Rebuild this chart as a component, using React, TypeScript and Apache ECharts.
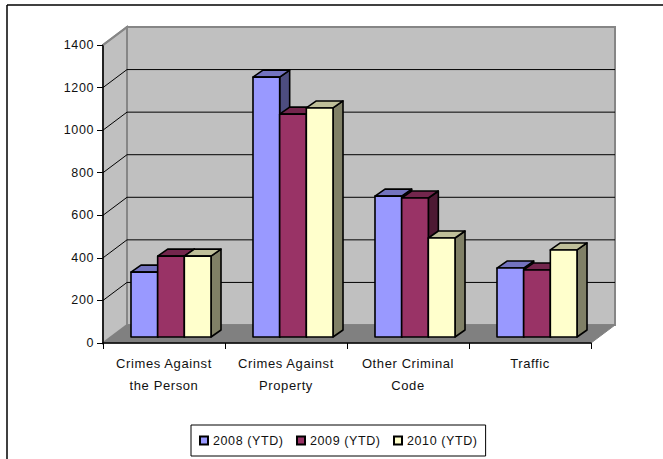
import React, { useEffect, useRef } from "react";
import * as echarts from "echarts";

const categories = ["Crimes Against\nthe Person", "Crimes Against\nProperty", "Other Criminal\nCode", "Traffic"];
const seriesNames = ["2008 (YTD)", "2009 (YTD)", "2010 (YTD)"];
const values2008 = [305, 1221, 662, 324];
const values2009 = [380, 1047, 653, 315];
const values2010 = [380, 1076, 465, 409];
const seriesValues = [values2008, values2009, values2010];
const frontColors = ["#9999ff", "#993366", "#ffffcc"];
const topColors = ["#7373bf", "#73264d", "#bfbf99"];
const sideColors = ["#4d4d80", "#4d1933", "#808066"];
const gridTicks = [200, 400, 600, 800, 1000, 1200, 1400];

const GRID = { left: 103, top: 45, width: 488, height: 298 };
const DEPTH_X = 24;
const DEPTH_Y = 18;
const BAR_SHIFT_X = 7;
const BAR_SHIFT_Y = 6;
const BAR_W = 26.67;
const BAR_DX = 10;
const BAR_DY = 7;

function barRenderer(seriesIndex: number) {
  return (params: any, api: any) => {
    const cat = api.value(0);
    const top = api.coord([cat, api.value(1)]);
    const base = api.coord([cat, 0]);
    const x0 = base[0] + BAR_SHIFT_X - BAR_W * 1.5 + seriesIndex * BAR_W;
    const x1 = x0 + BAR_W;
    const yb = base[1] - BAR_SHIFT_Y;
    const yt = top[1] - BAR_SHIFT_Y;
    const line = { stroke: "#000", lineWidth: 1.6, lineJoin: "round" };
    return {
      type: "group",
      children: [
        { type: "polygon", shape: { points: [[x1, yt], [x1 + BAR_DX, yt - BAR_DY], [x1 + BAR_DX, yb - BAR_DY], [x1, yb]] }, style: { fill: sideColors[seriesIndex], ...line } },
        { type: "polygon", shape: { points: [[x0, yt], [x0 + BAR_DX, yt - BAR_DY], [x1 + BAR_DX, yt - BAR_DY], [x1, yt]] }, style: { fill: topColors[seriesIndex], ...line } },
        { type: "rect", shape: { x: x0, y: yt, width: BAR_W, height: yb - yt }, style: { fill: frontColors[seriesIndex], ...line } },
      ],
    };
  };
}

function gridRenderer(params: any, api: any) {
  const p = api.coord([0, api.value(0)]);
  const left = GRID.left;
  const right = GRID.left + GRID.width;
  const isTop = api.value(0) === 1400;
  const color = isTop ? "#868686" : "#000";
  const width = isTop ? 2 : 1;
  return {
    type: "group",
    children: [
      { type: "line", shape: { x1: left, y1: p[1], x2: left + DEPTH_X, y2: p[1] - DEPTH_Y }, style: { stroke: color, lineWidth: width } },
      { type: "line", shape: { x1: left + DEPTH_X, y1: p[1] - DEPTH_Y, x2: right + DEPTH_X, y2: p[1] - DEPTH_Y }, style: { stroke: color, lineWidth: width } },
    ],
  };
}

const FONT = "'Liberation Sans', Arial, sans-serif";

export default function App() {
  const ref = useRef<HTMLDivElement>(null);
  useEffect(() => {
    const chart = echarts.init(ref.current!, undefined, { renderer: "svg" });
    const l = GRID.left, t = GRID.top, r = l + GRID.width, b = t + GRID.height;
    const grey = "#868686";
    chart.setOption({
      animation: false,
      backgroundColor: "#fff",
      textStyle: { fontFamily: FONT },
      grid: { left: l, top: t, width: GRID.width, height: GRID.height },
      xAxis: {
        type: "category",
        data: categories,
        axisLine: { lineStyle: { color: "#000", width: 1.5 } },
        axisTick: { show: true, length: 6, lineStyle: { color: "#000" } },
        axisLabel: { color: "#111", fontSize: 13, lineHeight: 22, margin: 9, fontFamily: FONT, interval: 0 },
      },
      yAxis: {
        type: "value",
        min: 0,
        max: 1400,
        interval: 200,
        axisLine: { show: true, lineStyle: { color: "#000", width: 1.5 } },
        axisTick: { show: true, length: 6, lineStyle: { color: "#000" } },
        splitLine: { show: false },
        axisLabel: { color: "#111", fontSize: 12.5, margin: 9, fontFamily: FONT, formatter: (v: number) => String(v) },
      },
      legend: {
        left: 191,
        top: 425,
        padding: [9, 14, 9, 8],
        borderColor: "#000",
        borderWidth: 1,
        itemWidth: 8,
        itemHeight: 8,
        itemGap: 18.4,
        icon: "rect",
        selectedMode: false,
        textStyle: { color: "#111", fontSize: 12.5, fontFamily: FONT },
        data: seriesNames,
      },
      graphic: [
        { type: "line", z: -10, shape: { x1: 7, y1: 5, x2: 663, y2: 5 }, style: { stroke: "#000", lineWidth: 1.5 } },
        { type: "line", z: -10, shape: { x1: 7, y1: 5, x2: 7, y2: 459 }, style: { stroke: "#000", lineWidth: 1.5 } },
        { type: "polygon", z: -9, shape: { points: [[l + DEPTH_X, t - DEPTH_Y], [r + DEPTH_X, t - DEPTH_Y], [r + DEPTH_X, b - DEPTH_Y], [l + DEPTH_X, b - DEPTH_Y]] }, style: { fill: "#c0c0c0", stroke: grey, lineWidth: 2 } },
        { type: "polygon", z: -9, shape: { points: [[l, t], [l + DEPTH_X, t - DEPTH_Y], [l + DEPTH_X, b - DEPTH_Y], [l, b]] }, style: { fill: "#c0c0c0", stroke: grey, lineWidth: 2 } },
        { type: "polygon", z: -8, shape: { points: [[l, b], [l + DEPTH_X, b - DEPTH_Y], [r + DEPTH_X, b - DEPTH_Y], [r, b]] }, style: { fill: "#808080", stroke: "#808080", lineWidth: 1 } },
      ],
      series: [
        {
          type: "custom",
          name: "walls",
          silent: true,
          z: 1,
          renderItem: gridRenderer,
          data: gridTicks.map((v) => [v]),
          encode: { y: 0 },
        },
        ...seriesNames.map((name, i) => ({
          type: "custom",
          name,
          z: 3 + i,
          itemStyle: { color: frontColors[i], borderColor: "#000", borderWidth: 1.5 },
          renderItem: barRenderer(i),
          data: seriesValues[i].map((v, c) => [c, v]),
          encode: { x: 0, y: 1 },
        })),
      ],
    });
    return () => chart.dispose();
  }, []);
  return <div ref={ref} style={{ width: 663, height: 459, position: "absolute", left: 0, top: 0, letterSpacing: "0.6px" }} />;
}
